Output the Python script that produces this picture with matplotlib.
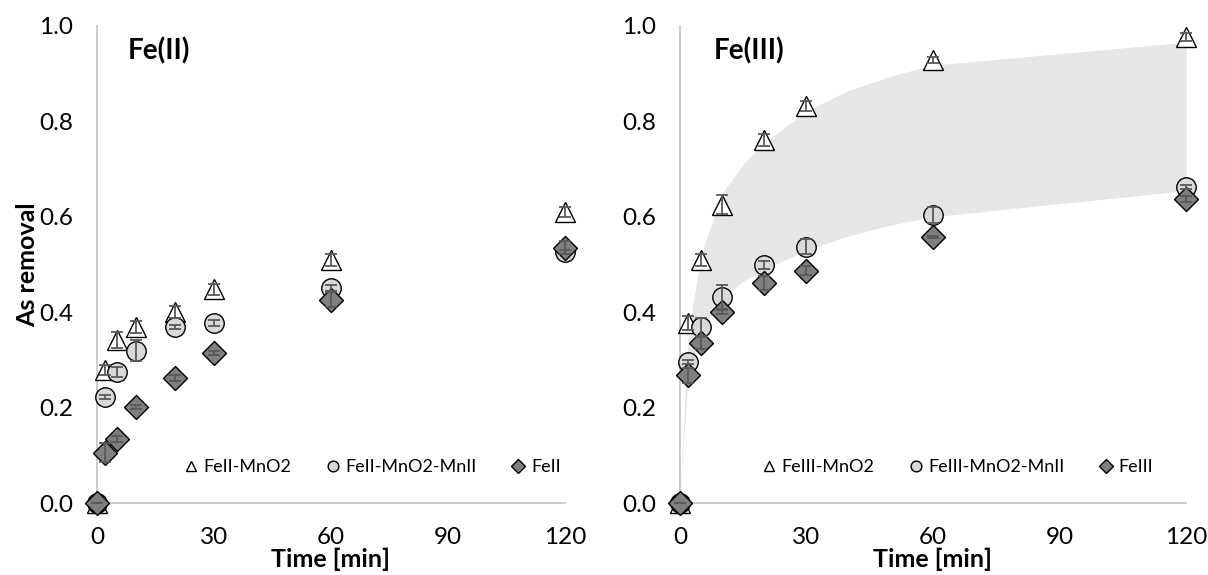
import matplotlib.pyplot as plt
import numpy as np

plt.rcParams['font.family'] = ['Lato', 'DejaVu Sans']

# Время отбора проб, мин
time = [0, 2, 5, 10, 20, 30, 60, 120]

# Fe(II)
fe2_mno2 = [0.0, 0.279, 0.342, 0.369, 0.400, 0.448, 0.509, 0.610]
fe2_mno2_err = [0.0, 0.010, 0.016, 0.012, 0.012, 0.012, 0.012, 0.010]
fe2_mno2_mn = [0.0, 0.222, 0.275, 0.319, 0.369, 0.377, 0.450, 0.526]
fe2_mno2_mn_err = [0.0, 0.004, 0.010, 0.022, 0.004, 0.006, 0.006, 0.004]
fe2 = [0.0, 0.105, 0.134, 0.201, 0.262, 0.314, 0.426, 0.535]
fe2_err = [0.0, 0.020, 0.006, 0.004, 0.006, 0.004, 0.016, 0.014]

# Fe(III)
fe3_mno2 = [0.0, 0.377, 0.509, 0.625, 0.761, 0.832, 0.929, 0.977]
fe3_mno2_err = [0.0, 0.014, 0.012, 0.020, 0.012, 0.010, 0.006, 0.008]
fe3_mno2_mn = [0.0, 0.296, 0.369, 0.432, 0.499, 0.537, 0.604, 0.662]
fe3_mno2_mn_err = [0.0, 0.004, 0.018, 0.026, 0.008, 0.016, 0.016, 0.004]
fe3 = [0.0, 0.268, 0.335, 0.400, 0.461, 0.487, 0.558, 0.638]
fe3_err = [0.0, 0.016, 0.012, 0.004, 0.014, 0.010, 0.002, 0.006]

# Серая область (модельный диапазон) для Fe(III)
band_time = [0, 1, 2, 5, 10, 15, 20, 30, 40, 50, 60, 120]
band_upper = [0.0, 0.20, 0.36, 0.52, 0.65, 0.71, 0.755, 0.822, 0.865, 0.895, 0.918, 0.966]
band_lower = [0.0, 0.15, 0.27, 0.36, 0.43, 0.465, 0.490, 0.530, 0.560, 0.583, 0.600, 0.655]

x_ticks = [0, 30, 60, 90, 120]
y_ticks = [0.0, 0.2, 0.4, 0.6, 0.8, 1.0]

fig = plt.figure(figsize=(12.08, 5.75), dpi=100)
ax1 = fig.add_axes([0.0803, 0.1252, 0.3874, 0.8296])
ax2 = fig.add_axes([0.5629, 0.1252, 0.4189, 0.8296])

styles = [
    dict(marker='^', mfc='white', ms=14),
    dict(marker='o', mfc='#d9d9d9', ms=14),
    dict(marker='D', mfc='#7f7f7f', ms=12.5),
]


def draw(ax, series, labels, title, legend_x):
    for (y, err), st, lab in zip(series, styles, labels):
        ax.plot(time, y, linestyle='none', marker=st['marker'], mfc=st['mfc'],
                mec='black', mew=1.0, ms=st['ms'], clip_on=False, zorder=3,
                label=lab)
        ax.errorbar(time, y, yerr=err, fmt='none', ecolor='#595959',
                    elinewidth=1.3, capsize=4, capthick=1.3, zorder=4,
                    clip_on=False)
    ax.set_xlim(0, 120)
    ax.set_ylim(0, 1.0)
    ax.set_xticks(x_ticks)
    ax.set_yticks(y_ticks)
    ax.set_yticklabels([f'{v:.1f}' for v in y_ticks])
    ax.tick_params(length=0, labelsize=17.5, pad=17)
    for s in ['top', 'right']:
        ax.spines[s].set_visible(False)
    for s in ['left', 'bottom']:
        ax.spines[s].set_color('#c8c8c8')
        ax.spines[s].set_linewidth(1.3)
    ax.set_xlabel('Time [min]', fontsize=18, fontweight='bold', labelpad=0)
    ax.text(0.066, 0.948, title, transform=ax.transAxes, fontsize=20,
            fontweight='bold', va='center', ha='left')
    ax.legend(loc='center', bbox_to_anchor=(legend_x, 0.075), ncol=3,
              frameon=False, fontsize=13, markerscale=0.55,
              handlelength=0.6, handletextpad=0.4, columnspacing=2.0)


draw(ax1,
     [(fe2_mno2, fe2_mno2_err), (fe2_mno2_mn, fe2_mno2_mn_err), (fe2, fe2_err)],
     ['FeII-MnO2', 'FeII-MnO2-MnII', 'FeII'], 'Fe(II)', 0.59)
ax1.set_ylabel('As removal', fontsize=18, fontweight='bold', labelpad=0)

ax2.fill_between(band_time, band_lower, band_upper, color='#e6e6e6',
                 linewidth=0, zorder=1)
draw(ax2,
     [(fe3_mno2, fe3_mno2_err), (fe3_mno2_mn, fe3_mno2_mn_err), (fe3, fe3_err)],
     ['FeIII-MnO2', 'FeIII-MnO2-MnII', 'FeIII'], 'Fe(III)', 0.55)

plt.savefig('out.png', dpi=100)
